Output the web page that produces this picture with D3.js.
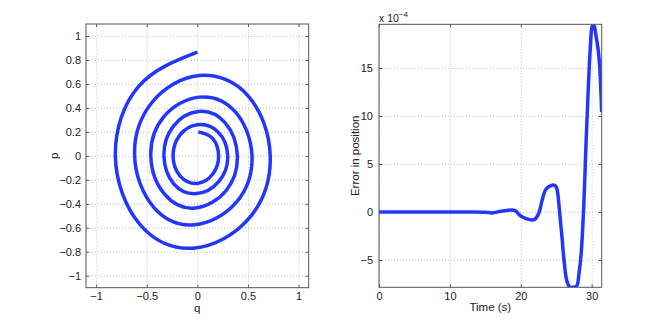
<!DOCTYPE html>
<html><head><meta charset="utf-8">
<script src="https://cdn.jsdelivr.net/npm/d3@7"></script>
<style>
body{margin:0;background:#fff}
svg{display:block}
text{font-family:"Liberation Sans",Arial,Helvetica,sans-serif;fill:#222}
</style>
</head><body>
<svg id="chart" width="664" height="324"></svg>
<script>
// ---- Left panel: phase-space spiral (q, p) ----
const spiralQ = [0.01, 0.148, 0.21, 0.152, 0.0, -0.169, -0.24, -0.173,
  0.0, 0.202, 0.30, 0.213, -0.01, -0.233, -0.33, -0.242,
  0.01, 0.275, 0.395, 0.287, -0.02, -0.322, -0.46, -0.329,
  0.02, 0.371, 0.54, 0.386, -0.03, -0.430, -0.62, -0.447,
  0.02, 0.501, 0.72, 0.516, -0.04, -0.570, -0.81, -0.580, 0.0];
const spiralP = [0.20, 0.148, 0.0, -0.152, -0.23, -0.169, 0.0, 0.173,
  0.26, 0.202, 0.0, -0.213, -0.315, -0.233, 0.0, 0.242,
  0.37, 0.275, 0.0, -0.287, -0.435, -0.322, 0.0, 0.329,
  0.49, 0.371, 0.0, -0.386, -0.575, -0.430, 0.0, 0.447,
  0.67, 0.501, 0.0, -0.516, -0.77, -0.570, 0.0, 0.580, 0.865];
const qTicks = [-1, -0.5, 0, 0.5, 1];
const pTicks = [-1, -0.8, -0.6, -0.4, -0.2, 0, 0.2, 0.4, 0.6, 0.8, 1];
const qDomain = [-1.1, 1.1];
const pDomain = [-1.1, 1.1];

// ---- Right panel: error in position vs time (values x 1e-4) ----
const timeS = [0, 5, 10, 13, 15, 16, 17, 18, 18.8, 19.3, 19.8, 20.3, 21.0, 21.9, 22.5, 23.0, 23.5, 24.0, 24.6, 25.0,
  25.2, 25.5, 25.8, 26.1, 26.5, 26.9, 27.4, 27.9, 28.2, 28.5, 28.85, 29.2, 29.5, 29.8, 30.1, 30.3,
  30.6, 30.9, 31.1, 31.25, 31.416];
const errorE4 = [0, 0, 0, 0, -0.03, -0.1, 0.05, 0.15, 0.2, 0.1, -0.3, -0.55, -0.75, -0.8, -0.2, 1.2, 2.3, 2.65, 2.8, 2.6,
  2.0, -0.2, -2.5, -5.0, -7.2, -7.8, -7.85, -7.7, -6.5, -4.5, 0.0, 7.0, 12.5, 17.0, 19.4, 19.5,
  18.4, 17.0, 15.5, 13.5, 10.4];
const timeTicks = [0, 10, 20, 30];
const errTicks = [-5, 0, 5, 10, 15];
const timeDomain = [0, 31.416];
const errDomain = [-7.85, 19.55];

const svg = d3.select('#chart');
const BLUE = '#2236ff';
const minus = s => s.replace(/-/g, '\u2212');

function panel(id, box, xDom, yDom, xTicks, yTicks, xFmt, yFmt, opts) {
  const x = d3.scaleLinear().domain(xDom).range([box.l, box.r]);
  const y = d3.scaleLinear().domain(yDom).range([box.b, box.t]);
  const g = svg.append('g');
  const W = box.r - box.l, H = box.b - box.t;
  const gx = g.append('g').attr('transform', `translate(0,${box.b})`)
    .call(d3.axisBottom(x).tickValues(xTicks).tickSize(-H).tickFormat(''));
  const gy = g.append('g').attr('transform', `translate(${box.l},0)`)
    .call(d3.axisLeft(y).tickValues(yTicks).tickSize(-W).tickFormat(''));
  [gx, gy].forEach(a => {
    a.select('.domain').remove();
    a.selectAll('line').attr('stroke', '#b4b4b4').attr('stroke-width', 0.8).attr('stroke-dasharray', '1,2');
  });
  svg.append('clipPath').attr('id', id).append('rect')
    .attr('x', box.l).attr('y', box.t).attr('width', W).attr('height', H);
  const data = opts.xs.map((v, i) => [v, opts.ys[i]]);
  g.append('path').datum(data)
    .attr('clip-path', `url(#${id})`)
    .attr('fill', 'none').attr('stroke', BLUE).attr('stroke-width', 3.5)
    .attr('stroke-linejoin', 'round').attr('stroke-linecap', 'butt')
    .attr('d', d3.line().x(d => x(d[0])).y(d => y(d[1])).curve(opts.curve));
  const tk = 3, axCol = '#555';
  const ab = g.append('g').attr('transform', `translate(0,${box.b})`)
    .call(d3.axisBottom(x).tickValues(xTicks).tickSizeInner(-tk).tickSizeOuter(0).tickPadding(opts.xPad).tickFormat(xFmt));
  const at = g.append('g').attr('transform', `translate(0,${box.t})`)
    .call(d3.axisTop(x).tickValues(xTicks).tickSizeInner(-tk).tickSizeOuter(0).tickFormat(''));
  const al = g.append('g').attr('transform', `translate(${box.l},0)`)
    .call(d3.axisLeft(y).tickValues(yTicks).tickSizeInner(-tk).tickSizeOuter(0).tickPadding(opts.yPad).tickFormat(yFmt));
  const ar = g.append('g').attr('transform', `translate(${box.r},0)`)
    .call(d3.axisRight(y).tickValues(yTicks).tickSizeInner(-tk).tickSizeOuter(0).tickFormat(''));
  [ab, at, al, ar].forEach(a => {
    a.select('.domain').remove();
    a.selectAll('line').attr('stroke', axCol).attr('stroke-width', 1);
    a.selectAll('text').attr('font-size', 11).attr('fill', '#222').attr('font-family', '"Liberation Sans",Arial,sans-serif');
  });
  g.append('rect').attr('x', box.l).attr('y', box.t).attr('width', W).attr('height', H)
    .attr('fill', 'none').attr('stroke', axCol).attr('stroke-width', 1);
  return {x, y, g};
}

const fmtNum = d => minus(String(d));

// left
panel('clipL', {l: 86, r: 308.7, t: 24, b: 287.7}, qDomain, pDomain, qTicks, pTicks,
  fmtNum, fmtNum, {xs: spiralQ, ys: spiralP, xPad: 4.5, yPad: 5, curve: d3.curveNatural});
svg.append('text').attr('x', 197.3).attr('y', 312).attr('text-anchor', 'middle').attr('font-size', 11.5).text('q');
svg.append('text').attr('transform', 'translate(58,155.8) rotate(-90)').attr('text-anchor', 'middle').attr('font-size', 11.5).text('p');

// right
panel('clipR', {l: 379, r: 601.7, t: 24.3, b: 287.3}, timeDomain, errDomain, timeTicks, errTicks,
  fmtNum, fmtNum, {xs: timeS, ys: errorE4, xPad: 4.5, yPad: 6, curve: d3.curveCatmullRom.alpha(0.5)});
svg.append('text').attr('x', 490.3).attr('y', 311).attr('text-anchor', 'middle').attr('font-size', 11.5).text('Time (s)');
svg.append('text').attr('transform', 'translate(358.5,155.8) rotate(-90)').attr('text-anchor', 'middle').attr('font-size', 11.5).text('Error in position');
const ex = svg.append('text').attr('x', 379).attr('y', 21.5).attr('font-size', 10.5);
ex.append('tspan').text('x 10');
ex.append('tspan').attr('dy', -5).attr('font-size', 8).text('\u22124');
</script>
</body></html>
